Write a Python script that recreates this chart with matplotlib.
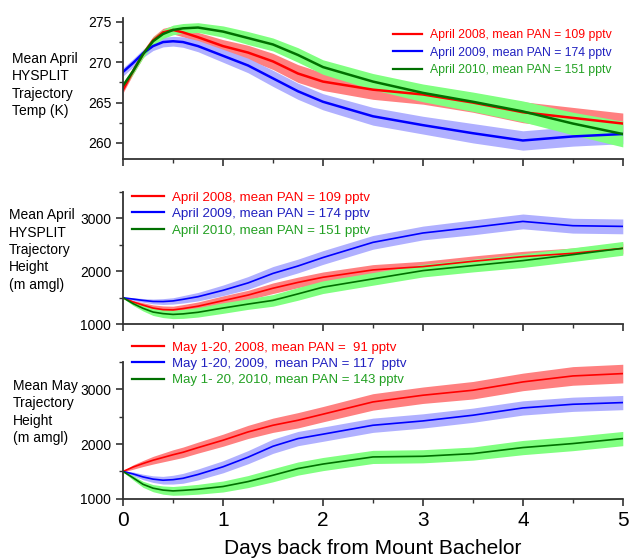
import numpy as np
import matplotlib
matplotlib.use("Agg")
import matplotlib.pyplot as plt
from matplotlib.ticker import MultipleLocator

plt.rcParams['font.family'] = ['Liberation Sans', 'DejaVu Sans']

days = [0, 0.1, 0.2, 0.3, 0.4, 0.5, 0.6, 0.75, 1.0, 1.25, 1.5, 1.75, 2.0, 2.5, 3.0, 3.5, 4.0, 4.5, 5.0]

# panel 1: mean April trajectory temperature (K)
temp_2008 = [266.6, 268.9, 271.0, 272.7, 273.7, 274.0, 273.7, 273.1, 272.0, 271.2, 270.1, 268.6, 267.6, 266.6, 266.0, 265.0, 263.8, 263.1, 262.4]
temp_2009 = [268.8, 269.9, 271.1, 272.0, 272.5, 272.6, 272.5, 272.0, 270.8, 269.6, 268.0, 266.4, 265.1, 263.3, 262.2, 261.2, 260.3, 260.8, 261.1]
temp_2010 = [267.1, 268.9, 271.0, 272.6, 273.5, 274.0, 274.2, 274.3, 273.8, 273.0, 272.2, 270.9, 269.4, 267.6, 266.2, 265.1, 263.9, 262.4, 261.1]
temp_err_2008 = [0.4, 0.4, 0.45, 0.5, 0.5, 0.5, 0.55, 0.6, 0.8, 0.9, 1.0, 1.1, 1.1, 1.2, 1.2, 1.2, 1.3, 1.3, 1.3]
temp_err_2009 = [0.5, 0.5, 0.5, 0.55, 0.6, 0.6, 0.65, 0.7, 0.8, 0.9, 1.0, 1.0, 1.0, 1.1, 1.1, 1.2, 1.2, 1.2, 1.2]
temp_err_2010 = [0.4, 0.4, 0.45, 0.5, 0.55, 0.6, 0.6, 0.6, 0.7, 0.8, 0.8, 0.9, 0.9, 1.0, 1.1, 1.2, 1.3, 1.4, 1.6]

# panel 2: mean April trajectory height (m amgl)
hapr_2008 = [1500, 1420, 1360, 1305, 1275, 1270, 1295, 1340, 1445, 1550, 1680, 1790, 1887, 2026, 2089, 2189, 2277, 2340, 2434]
hapr_2009 = [1500, 1475, 1450, 1430, 1428, 1440, 1470, 1520, 1640, 1780, 1960, 2100, 2260, 2547, 2724, 2830, 2943, 2862, 2849]
hapr_2010 = [1500, 1390, 1300, 1230, 1200, 1185, 1195, 1225, 1305, 1380, 1450, 1573, 1700, 1857, 2013, 2108, 2202, 2315, 2434]
hapr_err_2008 = [10, 30, 45, 60, 70, 70, 75, 80, 90, 90, 100, 100, 100, 100, 100, 100, 100, 100, 100]
hapr_err_2009 = [10, 25, 35, 45, 55, 60, 70, 80, 100, 120, 130, 130, 130, 130, 130, 140, 140, 140, 140]
hapr_err_2010 = [10, 35, 50, 65, 75, 80, 85, 90, 100, 100, 110, 120, 120, 120, 120, 120, 130, 130, 130]

# panel 3: mean May trajectory height (m amgl)
hmay_2008 = [1500, 1580, 1645, 1705, 1755, 1805, 1850, 1935, 2070, 2221, 2343, 2434, 2545, 2769, 2891, 2982, 3134, 3243, 3286]
hmay_2009 = [1500, 1455, 1400, 1360, 1340, 1350, 1375, 1445, 1585, 1760, 1960, 2100, 2180, 2343, 2422, 2526, 2659, 2726, 2757]
hmay_2010 = [1500, 1385, 1265, 1195, 1160, 1145, 1155, 1175, 1225, 1315, 1431, 1553, 1635, 1765, 1777, 1826, 1936, 2009, 2100]
hmay_err_2008 = [10, 40, 55, 70, 80, 90, 95, 100, 110, 120, 130, 140, 140, 150, 150, 160, 160, 170, 170]
hmay_err_2009 = [10, 35, 50, 60, 70, 80, 90, 100, 110, 120, 130, 130, 130, 130, 130, 130, 130, 130, 130]
hmay_err_2010 = [10, 40, 55, 65, 75, 80, 85, 90, 100, 110, 120, 120, 120, 120, 120, 120, 130, 130, 130]

apr_labels = ["April 2008, mean PAN = 109 pptv",
              "April 2009, mean PAN = 174 pptv",
              "April 2010, mean PAN = 151 pptv"]
may_labels = ["May 1-20, 2008, mean PAN =  91 pptv",
              "May 1-20, 2009,  mean PAN = 117  pptv",
              "May 1- 20, 2010, mean PAN = 143 pptv"]

line_cols = ["#ff0000", "#0000ff", "#007000"]
fill_cols = ["#ff8080", "#b0b0ff", "#80ff80"]
text_cols = ["#ff0000", "#2020c0", "#22a022"]


def draw_panel(ax, series, errs, labels, lw, ylim, major, minor, anchor, legsize, legspace):
    x = np.array(days)
    for s, e, fc in zip(series, errs, fill_cols):
        s = np.array(s); e = np.array(e)
        ax.fill_between(x, s - e, s + e, color=fc, lw=0)
    for s, lc, lab in zip(series, line_cols, labels):
        ax.plot(x, s, color=lc, lw=lw, label=lab)
    ax.set_xlim(0, 5)
    ax.set_ylim(*ylim)
    ax.xaxis.set_major_locator(MultipleLocator(1))
    ax.xaxis.set_minor_locator(MultipleLocator(0.5))
    ax.yaxis.set_major_locator(MultipleLocator(major))
    ax.yaxis.set_minor_locator(MultipleLocator(minor))
    ax.spines['top'].set_visible(False)
    ax.spines['right'].set_visible(False)
    for sp in ['left', 'bottom']:
        ax.spines[sp].set_linewidth(1.3)
        ax.spines[sp].set_color('#333333')
    ax.tick_params(which='major', direction='out', length=5, width=1.2, labelsize=10, color='#333333')
    ax.tick_params(which='minor', direction='out', length=3, width=1.0, color='#333333')
    ax.tick_params(axis='x', labelsize=15)
    leg = ax.legend(loc='upper left', bbox_to_anchor=anchor, frameon=False, fontsize=legsize,
                    handlelength=2.4, handletextpad=0.6, labelspacing=legspace,
                    borderpad=0, borderaxespad=0)
    for t, c in zip(leg.get_texts(), text_cols):
        t.set_color(c)
    for h in leg.get_lines():
        h.set_linewidth(1.6)


fig = plt.figure(figsize=(6.31, 5.58), dpi=100)
ax1 = fig.add_axes([0.195, 0.715, 0.792, 0.253])
ax2 = fig.add_axes([0.195, 0.419, 0.792, 0.237])
ax3 = fig.add_axes([0.195, 0.106, 0.792, 0.2455])

draw_panel(ax1, [temp_2008, temp_2009, temp_2010], [temp_err_2008, temp_err_2009, temp_err_2010],
           apr_labels, 1.8, (258, 275.5), 5, 2.5, (0.54, 0.92), 8.8, 0.45)
draw_panel(ax2, [hapr_2008, hapr_2009, hapr_2010], [hapr_err_2008, hapr_err_2009, hapr_err_2010],
           apr_labels, 1.2, (1000, 3500), 1000, 500, (0.018, 1.005), 9.6, 0.31)
draw_panel(ax3, [hmay_2008, hmay_2009, hmay_2010], [hmay_err_2008, hmay_err_2009, hmay_err_2010],
           may_labels, 1.2, (1000, 3500), 1000, 500, (0.018, 1.15), 9.5, 0.32)

ax1.set_xticklabels([])
ax2.set_xticklabels([])
ax3.set_xlabel("Days back from Mount Bachelor", fontsize=15, labelpad=7)

fig.text(12 / 631, 1 - 85 / 558, "Mean April\nHYSPLIT\nTrajectory\nTemp (K)", fontsize=10,
         va='center', ha='left', linespacing=1.3)
fig.text(9 / 631, 1 - 250 / 558, "Mean April\nHYSPLIT\nTrajectory\nHeight\n(m amgl)", fontsize=10,
         va='center', ha='left', linespacing=1.3)
fig.text(13 / 631, 1 - 412 / 558, "Mean May\nTrajectory\nHeight\n(m amgl)", fontsize=10,
         va='center', ha='left', linespacing=1.3)

fig.savefig("out.png", dpi=100)
